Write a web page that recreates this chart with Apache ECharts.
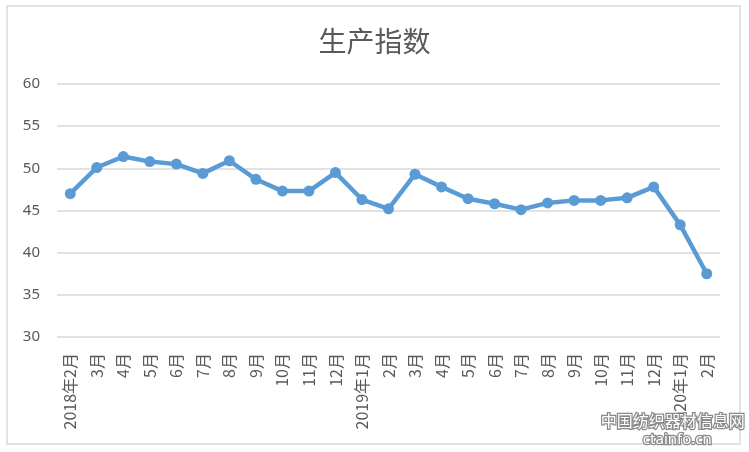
<!DOCTYPE html>
<html>
<head>
<meta charset="utf-8">
<script src="https://cdn.jsdelivr.net/npm/echarts@6/dist/echarts.min.js"></script>
<style>
  html, body { margin: 0; padding: 0; background: #fff; }
  #main { width: 749px; height: 452px; }
</style>
</head>
<body>
<div id="main"></div>
<script>
// 月份
const months = ['2018年2月', '3月', '4月', '5月', '6月', '7月', '8月', '9月', '10月', '11月', '12月',
  '2019年1月', '2月', '3月', '4月', '5月', '6月', '7月', '8月', '9月', '10月', '11月', '12月',
  '2020年1月', '2月']
// 生产指数
const produceIndex = [47.0, 50.1, 51.4, 50.8, 50.5, 49.4, 50.9, 48.7, 47.3, 47.3, 49.5,
  46.3, 45.2, 49.3, 47.8, 46.4, 45.8, 45.1, 45.9, 46.2, 46.2, 46.5, 47.8,
  43.3, 37.5]
const yTicks = [30, 35, 40, 45, 50, 55, 60]

const chart = echarts.init(document.getElementById('main'))
const option = {
  backgroundColor: '#fff',
  animation: false,
  title: {
    text: '生产指数',
    left: 'center',
    top: 22,
    textStyle: {
      fontFamily: 'Noto Sans CJK SC',
      fontSize: 28,
      fontWeight: 'normal',
      color: '#595959'
    }
  },
  grid: { left: 57, right: 29, top: 84, bottom: 115 },
  xAxis: {
    type: 'category',
    data: months,
    axisLine: { show: false },
    axisTick: { show: false },
    axisLabel: {
      rotate: 90,
      interval: 0,
      margin: 16,
      fontSize: 16,
      color: '#595959',
      fontFamily: 'Noto Sans CJK SC'
    }
  },
  yAxis: {
    type: 'value',
    min: yTicks[0],
    max: yTicks[yTicks.length - 1],
    interval: 5,
    axisLine: { show: false },
    axisTick: { show: false },
    axisLabel: { fontSize: 15, color: '#595959', margin: 17, fontFamily: 'Noto Sans' },
    splitLine: { lineStyle: { color: '#d9d9d9', width: 1.5 } }
  },
  series: [
    {
      type: 'line',
      data: produceIndex,
      symbol: 'circle',
      symbolSize: 11,
      lineStyle: { color: '#5B9BD5', width: 4.5 },
      itemStyle: { color: '#5B9BD5' }
    }
  ],
  graphic: [
    {
      type: 'rect',
      shape: { x: 7, y: 6, width: 733, height: 438 },
      style: { fill: 'none', stroke: '#d9d9d9', lineWidth: 1.5 },
      silent: true
    },
    {
      type: 'text',
      right: 3,
      bottom: 22,
      style: {
        text: '中国纺织器材信息网',
        fontSize: 16,
        fontFamily: 'Noto Sans CJK SC',
        fill: '#fff',
        stroke: '#8a8a8a',
        lineWidth: 2.5
      },
      z: 10
    },
    {
      type: 'text',
      right: 36,
      bottom: 4,
      style: {
        text: 'ctainfo.cn',
        fontSize: 15,
        fontFamily: 'Noto Sans',
        fill: '#fff',
        stroke: '#8a8a8a',
        lineWidth: 2.5
      },
      z: 10
    }
  ]
}
chart.setOption(option)
</script>
</body>
</html>
